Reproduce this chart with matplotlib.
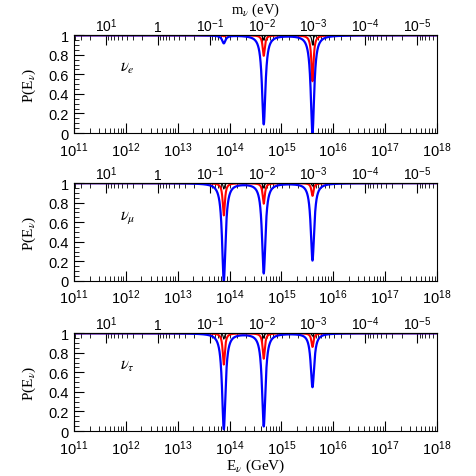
import numpy as np
import matplotlib
matplotlib.use('Agg')
import matplotlib.pyplot as plt
from matplotlib.ticker import LogLocator, FixedLocator, FuncFormatter, MultipleLocator, NullFormatter

# resonance energies (log10 E/GeV) of the three dips
dip_logE = [13.89, 14.66, 15.60]

# dip depths (1 - minimum of P), per curve
depth_e = {'black': [0.00, 0.05, 0.10], 'red': [0.01, 0.21, 0.47], 'blue': [0.08, 0.91, 1.00]}
depth_mu = {'black': [0.06, 0.05, 0.03], 'red': [0.33, 0.21, 0.13], 'blue': [1.00, 0.92, 0.79]}
depth_tau = {'black': [0.06, 0.05, 0.03], 'red': [0.32, 0.26, 0.14], 'blue': [0.98, 0.95, 0.55]}

flavours = [r'$\nu_e$', r'$\nu_\mu$', r'$\nu_\tau$']
panels = [depth_e, depth_mu, depth_tau]

# half widths of the dips in decades
width = {'black': 0.015, 'red': 0.025, 'blue': 0.04}
lw = {'black': 0.8, 'red': 1.5, 'blue': 1.6}

K = 4.16e12  # E_res (GeV) * m (eV)

logE = np.linspace(11, 18, 20001)
E = 10**logE

plt.rcParams['font.family'] = ['Liberation Sans', 'DejaVu Sans']
plt.rcParams['mathtext.fontset'] = 'custom'
plt.rcParams['mathtext.rm'] = 'Liberation Sans'
plt.rcParams['mathtext.it'] = 'STIXGeneral:italic'
plt.rcParams['mathtext.bf'] = 'Liberation Sans:bold'

fig = plt.figure(figsize=(4.77, 4.77), dpi=100)
bottoms = [0.719, 0.409, 0.0943]
height = 0.205


def mfmt(v, pos):
    n = int(round(np.log10(v)))
    if n == 0:
        return '1'
    return r'10$^{%d}$' % n


def efmt(v, pos):
    return r'10$^{%d}$' % int(round(np.log10(v)))


def yfmt(v, pos):
    if abs(v) < 1e-9:
        return '0'
    if abs(v - 1) < 1e-9:
        return '1'
    return '%.1f' % v


def m_of_E(x):
    x = np.asarray(x, dtype=float)
    with np.errstate(divide='ignore'):
        return K / x


for i, (b, depths) in enumerate(zip(bottoms, panels)):
    ax = fig.add_axes([0.155, b, 0.761, height])
    for c in ['black', 'red', 'blue']:
        P = np.ones_like(logE)
        for x0, d in zip(dip_logE, depths[c]):
            P -= d / (1 + ((logE - x0) / width[c])**2)
        ax.plot(E, P, color=c, lw=lw[c])
    ax.set_xscale('log')
    ax.set_xlim(1e11, 1e18)
    ax.set_ylim(0, 1)
    ax.xaxis.set_major_locator(LogLocator(base=10, numticks=20))
    ax.xaxis.set_minor_locator(LogLocator(base=10, subs=np.arange(2, 10), numticks=20))
    ax.xaxis.set_major_formatter(FuncFormatter(efmt))
    ax.yaxis.set_major_locator(MultipleLocator(0.2))
    ax.yaxis.set_minor_locator(MultipleLocator(0.05))
    ax.yaxis.set_major_formatter(FuncFormatter(yfmt))
    ax.tick_params(which='both', direction='in', labelsize=10.5)
    ax.tick_params(which='major', length=7)
    ax.tick_params(which='minor', length=3.5)
    ax.tick_params(axis='x', pad=5)
    ax.set_ylabel(r'P(E$_\nu$)', fontsize=11, family='Liberation Serif', labelpad=8)
    ax.text(0.127, 0.64, flavours[i], transform=ax.transAxes, fontsize=12)

    sec = ax.secondary_xaxis('top', functions=(m_of_E, m_of_E))
    sec.xaxis.set_major_locator(FixedLocator([1e1, 1, 1e-1, 1e-2, 1e-3, 1e-4, 1e-5]))
    sec.xaxis.set_minor_locator(LogLocator(base=10, subs=np.arange(2, 10), numticks=20))
    sec.xaxis.set_major_formatter(FuncFormatter(mfmt))
    sec.xaxis.set_minor_formatter(NullFormatter())
    sec.tick_params(which='both', direction='in', labelsize=10, pad=1)
    sec.tick_params(which='major', length=7)
    sec.tick_params(which='minor', length=3.5)
    if i == 0:
        sec.set_xlabel(r'm$_\nu$ (eV)', fontsize=10.5, family='Liberation Serif', labelpad=2.5)
    if i == 2:
        ax.set_xlabel(r'E$_\nu$ (GeV)', fontsize=11, family='Liberation Serif', labelpad=0)

fig.savefig('out.png', dpi=100)
